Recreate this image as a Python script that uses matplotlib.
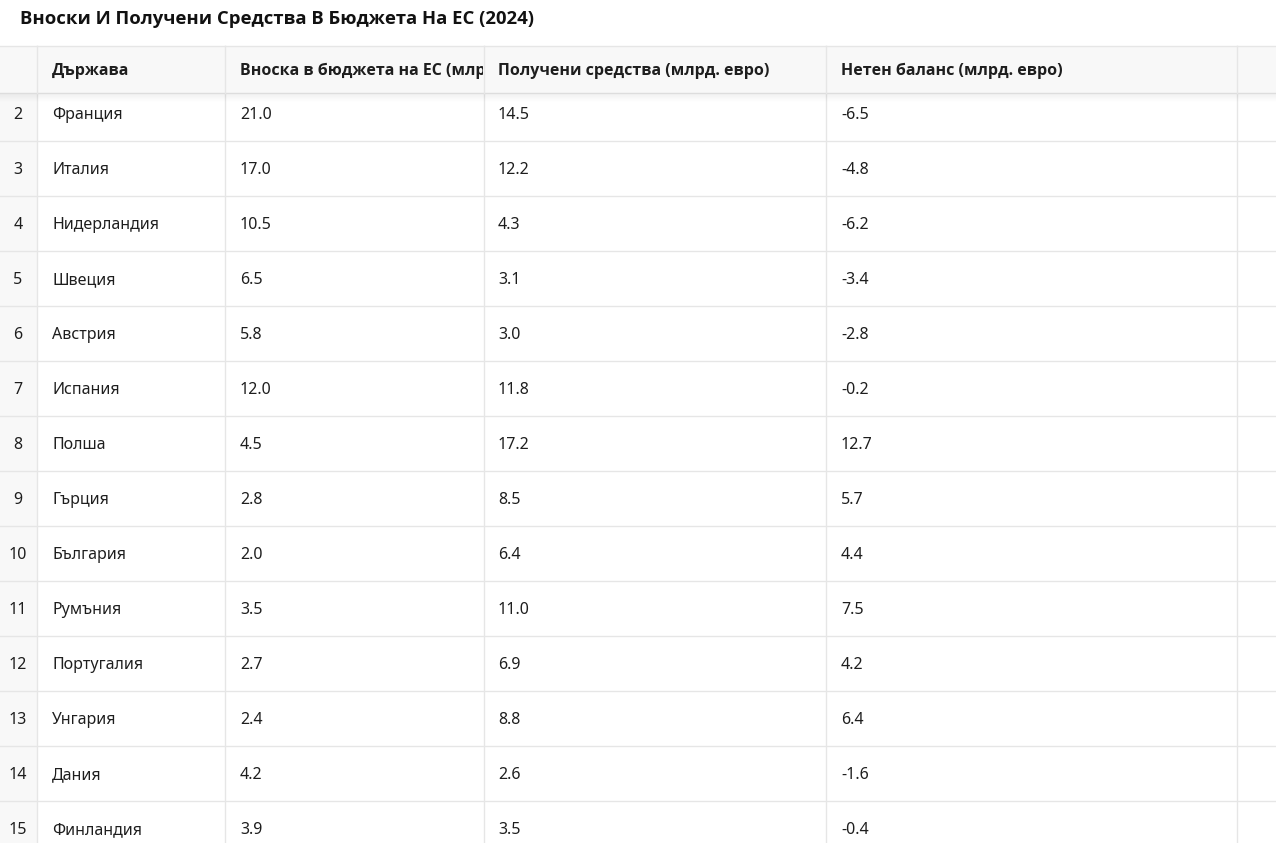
import matplotlib
matplotlib.use("Agg")
import matplotlib.pyplot as plt
from matplotlib.patches import Rectangle
from matplotlib.transforms import Bbox, TransformedBbox
from matplotlib import font_manager

plt.rcParams['font.family'] = ['Noto Sans', 'DejaVu Sans']

title = "Вноски И Получени Средства В Бюджета На ЕС (2024)"
headers = ["Държава", "Вноска в бюджета на ЕС (млр", "Получени средства (млрд. евро)", "Нетен баланс (млрд. евро)"]
row_ids = [2, 3, 4, 5, 6, 7, 8, 9, 10, 11, 12, 13, 14, 15]
countries = ["Франция", "Италия", "Нидерландия", "Швеция", "Австрия", "Испания", "Полша",
             "Гърция", "България", "Румъния", "Португалия", "Унгария", "Дания", "Финландия"]
contribution = [21.0, 17.0, 10.5, 6.5, 5.8, 12.0, 4.5, 2.8, 2.0, 3.5, 2.7, 2.4, 4.2, 3.9]
received = [14.5, 12.2, 4.3, 3.1, 3.0, 11.8, 17.2, 8.5, 6.4, 11.0, 6.9, 8.8, 2.6, 3.5]
net_balance = [-6.5, -4.8, -6.2, -3.4, -2.8, -0.2, 12.7, 5.7, 4.4, 7.5, 4.2, 6.4, -1.6, -0.4]

bold_family = 'Noto Sans'
for fam in ['Noto Sans', 'Open Sans', 'Roboto', 'Liberation Sans', 'DejaVu Sans']:
    try:
        fp = font_manager.findfont(font_manager.FontProperties(family=fam, weight='bold'), fallback_to_default=False)
        if 'bold' in fp.lower():
            bold_family = fam
            break
    except Exception:
        pass

W, H = 1276, 843
fig = plt.figure(figsize=(W / 100, H / 100), dpi=100)
ax = fig.add_axes([0, 0, 1, 1])
ax.set_xlim(0, W)
ax.set_ylim(H, 0)
ax.axis('off')

col_edges = [0, 37, 225, 484, 826, 1237, W]
grid = '#e6e6e6'
bg = '#f8f8f8'
head_top, head_bot = 46, 93
row_h = 55
first_row_bottom = 141
fs = 11.5
tc = '#1e1e1e'

ax.add_patch(Rectangle((0, head_bot), 37, H - head_bot, facecolor=bg, edgecolor='none', zorder=1))

for i, (rid, c, a, b, n) in enumerate(zip(row_ids, countries, contribution, received, net_balance)):
    bottom = first_row_bottom + i * row_h
    yc = bottom - 26
    ax.plot([0, W], [bottom, bottom], color=grid, lw=1, zorder=2)
    ax.text(18, yc, str(rid), ha='center', va='center', fontsize=fs, color=tc, zorder=3)
    ax.text(52, yc, c, ha='left', va='center', fontsize=fs, color=tc, zorder=3)
    ax.text(240, yc, f"{a:.1f}", ha='left', va='center', fontsize=fs, color=tc, zorder=3)
    ax.text(498, yc, f"{b:.1f}", ha='left', va='center', fontsize=fs, color=tc, zorder=3)
    ax.text(841, yc, f"{n:.1f}", ha='left', va='center', fontsize=fs, color=tc, zorder=3)

for x in col_edges[1:-1]:
    ax.plot([x, x], [head_top, H], color=grid, lw=1, zorder=2)

for k in range(8):
    ax.plot([0, W], [head_bot + k + 0.5, head_bot + k + 0.5], color='black', alpha=0.035 * (1 - k / 8), lw=1, zorder=4)

ax.add_patch(Rectangle((0, head_top), W, head_bot - head_top, facecolor=bg, edgecolor='none', zorder=5))
ax.plot([0, W], [head_top, head_top], color=grid, lw=1, zorder=6)
ax.plot([0, W], [head_bot, head_bot], color='#dddddd', lw=1, zorder=6)
for x in col_edges[1:-1]:
    ax.plot([x, x], [head_top, head_bot], color=grid, lw=1, zorder=6)

hx = [52, 240, 498, 841]
for j, (h, x) in enumerate(zip(headers, hx)):
    t = ax.text(x, 71, h, ha='left', va='center', fontsize=fs, fontweight='bold',
                family=[bold_family, 'DejaVu Sans'], color=tc, zorder=7)
    bb = Bbox.from_extents(col_edges[j + 1], head_top, col_edges[j + 2] - 1, head_bot)
    t.set_clip_box(TransformedBbox(bb, ax.transData))
    t.set_clip_on(True)

ax.text(20, 19, title, ha='left', va='center', fontsize=13.3, fontweight='bold',
        family=[bold_family, 'DejaVu Sans'], color='#111111', zorder=7)

fig.savefig('out.png', dpi=100, facecolor='white')
